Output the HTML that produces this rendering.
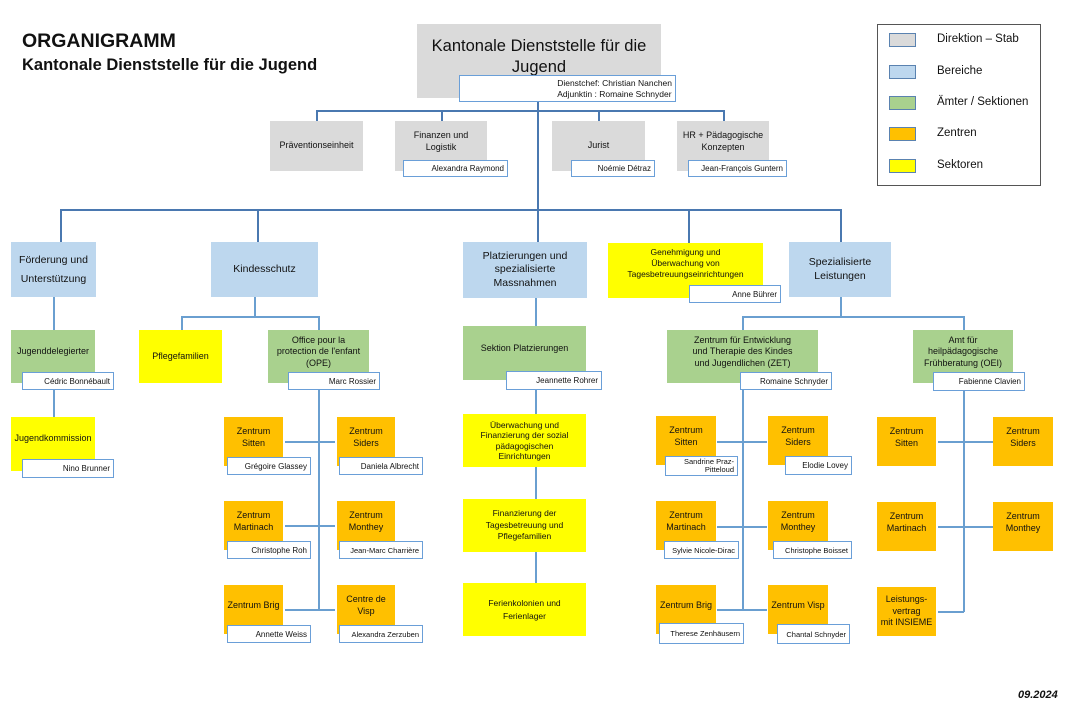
<!DOCTYPE html>
<html><head><meta charset="utf-8"><style>
body{margin:0;width:1091px;height:722px;background:#fff;position:relative;overflow:hidden;font-family:"Liberation Sans",sans-serif;color:#111}
.b{position:absolute;display:flex;align-items:center;justify-content:center;text-align:center;font-size:9px;line-height:1.3;box-sizing:border-box;padding:0 1px}
.g{background:#dadada}.bl{background:#bdd7ee}.gr{background:#a9d18e}.o{background:#ffc000}.y{background:#ffff00}
.n{position:absolute;background:#fff;border:1.5px solid #6a9fd8;box-sizing:border-box;font-size:8px;text-align:right;padding:0 3px;display:flex;align-items:center;justify-content:flex-end;white-space:nowrap;overflow:hidden}
.h,.v{position:absolute;background:#4a78b0}
.h{height:1.5px}.v{width:1.5px}
.c{background:#6a9fd0}
.lg{position:absolute;width:27px;height:14px;border:1.5px solid #5a82b0;box-sizing:border-box;left:889px}
.lt{position:absolute;left:937px;font-size:11.5px}
</style></head><body>
<div style="position:absolute;left:22px;top:30px;font-weight:bold;font-size:19.5px">ORGANIGRAMM</div>
<div style="position:absolute;left:22px;top:56px;font-weight:bold;font-size:16.5px">Kantonale Dienststelle für die Jugend</div>
<div style="position:absolute;left:1018px;top:689px;font-weight:bold;font-style:italic;font-size:11px">09.2024</div>

<!-- legend -->
<div style="position:absolute;left:877px;top:24px;width:164px;height:162px;border:1.5px solid #555;box-sizing:border-box"></div>
<div class="lg g" style="top:33px"></div><div class="lt" style="top:33px">Direktion – Stab</div>
<div class="lg bl" style="top:65px"></div><div class="lt" style="top:65px">Bereiche</div>
<div class="lg gr" style="top:96px"></div><div class="lt" style="top:96px">Ämter / Sektionen</div>
<div class="lg o" style="top:127px"></div><div class="lt" style="top:127px">Zentren</div>
<div class="lg y" style="top:159px"></div><div class="lt" style="top:159px">Sektoren</div>

<!-- top -->
<div class="b g" style="left:417px;top:24px;width:244px;height:74px;font-size:16.5px;line-height:1.25;align-items:flex-start;padding-top:12px;overflow:hidden">Kantonale Dienststelle für die Jugend</div>
<div class="n" style="left:459px;top:75px;width:217px;height:27px;line-height:1.25;font-size:8.5px;white-space:normal;text-align:left;justify-content:flex-end"><span>Dienstchef: Christian Nanchen<br>Adjunktin : Romaine Schnyder</span></div>

<!-- main lines -->
<div class="v" style="left:537px;top:102px;height:140px"></div>
<div class="h" style="left:316px;top:110px;width:408px"></div>
<div class="v" style="left:316px;top:110px;height:11px"></div>
<div class="v" style="left:441px;top:110px;height:11px"></div>
<div class="v" style="left:598px;top:110px;height:11px"></div>
<div class="v" style="left:723px;top:110px;height:11px"></div>
<div class="h" style="left:60px;top:209px;width:782px"></div>
<div class="v" style="left:60px;top:209px;height:33px"></div>
<div class="v" style="left:257px;top:209px;height:33px"></div>
<div class="v" style="left:688px;top:209px;height:34px"></div>
<div class="v" style="left:840px;top:209px;height:33px"></div>

<!-- staff -->
<div class="b g" style="left:270px;top:121px;width:93px;height:50px">Präventionseinheit</div>
<div class="b g" style="left:395px;top:121px;width:92px;height:50px;align-items:flex-start;padding-top:9px">Finanzen und<br>Logistik</div>
<div class="n" style="left:403px;top:160px;width:105px;height:17px">Alexandra Raymond</div>
<div class="b g" style="left:552px;top:121px;width:93px;height:50px">Jurist</div>
<div class="n" style="left:571px;top:160px;width:84px;height:17px">Noémie Détraz</div>
<div class="b g" style="left:677px;top:121px;width:92px;height:50px;align-items:flex-start;padding-top:9px">HR + Pädagogische<br>Konzepten</div>
<div class="n" style="left:688px;top:160px;width:99px;height:17px">Jean-François Guntern</div>

<!-- Bereiche -->
<div class="b bl" style="left:11px;top:242px;width:85px;height:55px;font-size:10.5px;line-height:1.8">Förderung und<br>Unterstützung</div>
<div class="b bl" style="left:211px;top:242px;width:107px;height:55px;font-size:10.5px">Kindesschutz</div>
<div class="b bl" style="left:463px;top:242px;width:124px;height:56px;font-size:10.5px">Platzierungen und<br>spezialisierte<br>Massnahmen</div>
<div class="b y" style="left:608px;top:243px;width:155px;height:55px;align-items:flex-start;padding-top:4px;font-size:8.5px">Genehmigung und<br>Überwachung von<br>Tagesbetreuungseinrichtungen</div>
<div class="n" style="left:689px;top:285px;width:92px;height:18px">Anne Bührer</div>
<div class="b bl" style="left:789px;top:242px;width:102px;height:55px;font-size:10.5px">Spezialisierte<br>Leistungen</div>

<!-- Förderung column -->
<div class="v c" style="left:53px;top:297px;height:33px"></div>
<div class="b gr" style="left:11px;top:330px;width:84px;height:53px;align-items:flex-start;padding-top:16px">Jugenddelegierter</div>
<div class="n" style="left:22px;top:372px;width:92px;height:18px">Cédric Bonnébault</div>
<div class="v c" style="left:53px;top:390px;height:27px"></div>
<div class="b y" style="left:11px;top:417px;width:84px;height:54px;align-items:flex-start;padding-top:16px">Jugendkommission</div>
<div class="n" style="left:22px;top:459px;width:92px;height:19px">Nino Brunner</div>

<!-- Kindesschutz column -->
<div class="v c" style="left:254px;top:297px;height:19px"></div>
<div class="h c" style="left:181px;top:316px;width:138px"></div>
<div class="v c" style="left:181px;top:316px;height:14px"></div>
<div class="v c" style="left:318px;top:316px;height:14px"></div>
<div class="b y" style="left:139px;top:330px;width:83px;height:53px">Pflegefamilien</div>
<div class="b gr" style="left:268px;top:330px;width:101px;height:53px;align-items:flex-start;padding-top:5px;line-height:1.25">Office pour la<br>protection de l'enfant<br>(OPE)</div>
<div class="n" style="left:288px;top:372px;width:92px;height:18px">Marc Rossier</div>
<div class="v c" style="left:318px;top:390px;height:220px"></div>
<div class="h c" style="left:285px;top:441px;width:50px"></div>
<div class="h c" style="left:285px;top:525px;width:50px"></div>
<div class="h c" style="left:285px;top:609px;width:50px"></div>
<div class="b o" style="left:224px;top:417px;width:59px;height:49px;align-items:flex-start;padding-top:9px">Zentrum<br>Sitten</div>
<div class="n" style="left:227px;top:457px;width:84px;height:18px">Grégoire Glassey</div>
<div class="b o" style="left:337px;top:417px;width:58px;height:49px;align-items:flex-start;padding-top:9px">Zentrum<br>Siders</div>
<div class="n" style="left:339px;top:457px;width:84px;height:18px">Daniela Albrecht</div>
<div class="b o" style="left:224px;top:501px;width:59px;height:49px;align-items:flex-start;padding-top:9px">Zentrum<br>Martinach</div>
<div class="n" style="left:227px;top:541px;width:84px;height:18px">Christophe Roh</div>
<div class="b o" style="left:337px;top:501px;width:58px;height:49px;align-items:flex-start;padding-top:9px">Zentrum<br>Monthey</div>
<div class="n" style="left:339px;top:541px;width:84px;height:18px;font-size:7.5px">Jean-Marc Charrière</div>
<div class="b o" style="left:224px;top:585px;width:59px;height:49px;align-items:flex-start;padding-top:15px">Zentrum Brig</div>
<div class="n" style="left:227px;top:625px;width:84px;height:18px">Annette Weiss</div>
<div class="b o" style="left:337px;top:585px;width:58px;height:49px;align-items:flex-start;padding-top:9px">Centre de<br>Visp</div>
<div class="n" style="left:339px;top:625px;width:84px;height:18px;font-size:7.5px">Alexandra Zerzuben</div>

<!-- Platzierungen column -->
<div class="v c" style="left:535px;top:298px;height:28px"></div>
<div class="b gr" style="left:463px;top:326px;width:123px;height:54px;align-items:flex-start;padding-top:17px">Sektion Platzierungen</div>
<div class="n" style="left:506px;top:371px;width:96px;height:19px">Jeannette Rohrer</div>
<div class="v c" style="left:535px;top:390px;height:194px"></div>
<div class="b y" style="left:463px;top:414px;width:123px;height:53px;line-height:1.2;font-size:8.5px">Überwachung und<br>Finanzierung der sozial<br>pädagogischen<br>Einrichtungen</div>
<div class="b y" style="left:463px;top:499px;width:123px;height:53px;line-height:1.35;font-size:8.5px">Finanzierung der<br>Tagesbetreuung und<br>Pflegefamilien</div>
<div class="b y" style="left:463px;top:583px;width:123px;height:53px;font-size:8.5px;line-height:1.5">Ferienkolonien und<br>Ferienlager</div>

<!-- Spezialisierte -->
<div class="v c" style="left:840px;top:297px;height:19px"></div>
<div class="h c" style="left:742px;top:316px;width:222px"></div>
<div class="v c" style="left:742px;top:316px;height:14px"></div>
<div class="v c" style="left:963px;top:316px;height:14px"></div>
<div class="b gr" style="left:667px;top:330px;width:151px;height:53px;align-items:flex-start;padding-top:5px;line-height:1.25">Zentrum für Entwicklung<br>und Therapie des Kindes<br>und Jugendlichen (ZET)</div>
<div class="n" style="left:740px;top:372px;width:92px;height:18px">Romaine Schnyder</div>
<div class="v c" style="left:742px;top:390px;height:220px"></div>
<div class="h c" style="left:717px;top:441px;width:50px"></div>
<div class="h c" style="left:717px;top:526px;width:50px"></div>
<div class="h c" style="left:717px;top:609px;width:50px"></div>
<div class="b o" style="left:656px;top:416px;width:60px;height:49px;align-items:flex-start;padding-top:9px">Zentrum<br>Sitten</div>
<div class="n" style="left:665px;top:456px;width:73px;height:20px;font-size:7.5px;line-height:1.1;white-space:normal"><span>Sandrine Praz-<br>Pitteloud</span></div>
<div class="b o" style="left:768px;top:416px;width:60px;height:49px;align-items:flex-start;padding-top:9px">Zentrum<br>Siders</div>
<div class="n" style="left:785px;top:456px;width:67px;height:19px">Elodie Lovey</div>
<div class="b o" style="left:656px;top:501px;width:60px;height:49px;align-items:flex-start;padding-top:9px">Zentrum<br>Martinach</div>
<div class="n" style="left:664px;top:541px;width:75px;height:18px;font-size:7.5px">Sylvie Nicole-Dirac</div>
<div class="b o" style="left:768px;top:501px;width:60px;height:49px;align-items:flex-start;padding-top:9px">Zentrum<br>Monthey</div>
<div class="n" style="left:773px;top:541px;width:79px;height:18px;font-size:7.5px">Christophe Boisset</div>
<div class="b o" style="left:656px;top:585px;width:60px;height:49px;align-items:flex-start;padding-top:15px">Zentrum Brig</div>
<div class="n" style="left:659px;top:623px;width:85px;height:21px;font-size:7.5px">Therese Zenhäusern</div>
<div class="b o" style="left:768px;top:585px;width:60px;height:49px;align-items:flex-start;padding-top:15px;white-space:nowrap">Zentrum Visp</div>
<div class="n" style="left:777px;top:624px;width:73px;height:20px;font-size:7.5px">Chantal Schnyder</div>

<!-- OEI -->
<div class="b gr" style="left:913px;top:330px;width:100px;height:53px;align-items:flex-start;padding-top:5px;line-height:1.25">Amt für<br>heilpädagogische<br>Frühberatung (OEI)</div>
<div class="n" style="left:933px;top:372px;width:92px;height:19px">Fabienne Clavien</div>
<div class="v c" style="left:963px;top:391px;height:221px"></div>
<div class="h c" style="left:938px;top:441px;width:55px"></div>
<div class="h c" style="left:938px;top:526px;width:55px"></div>
<div class="h c" style="left:938px;top:611px;width:26px"></div>
<div class="b o" style="left:877px;top:417px;width:59px;height:49px;align-items:flex-start;padding-top:9px">Zentrum<br>Sitten</div>
<div class="b o" style="left:993px;top:417px;width:60px;height:49px;align-items:flex-start;padding-top:9px">Zentrum<br>Siders</div>
<div class="b o" style="left:877px;top:502px;width:59px;height:49px;align-items:flex-start;padding-top:9px">Zentrum<br>Martinach</div>
<div class="b o" style="left:993px;top:502px;width:60px;height:49px;align-items:flex-start;padding-top:9px">Zentrum<br>Monthey</div>
<div class="b o" style="left:877px;top:587px;width:59px;height:49px;line-height:1.3">Leistungs-<br>vertrag<br>mit INSIEME</div>
</body></html>
